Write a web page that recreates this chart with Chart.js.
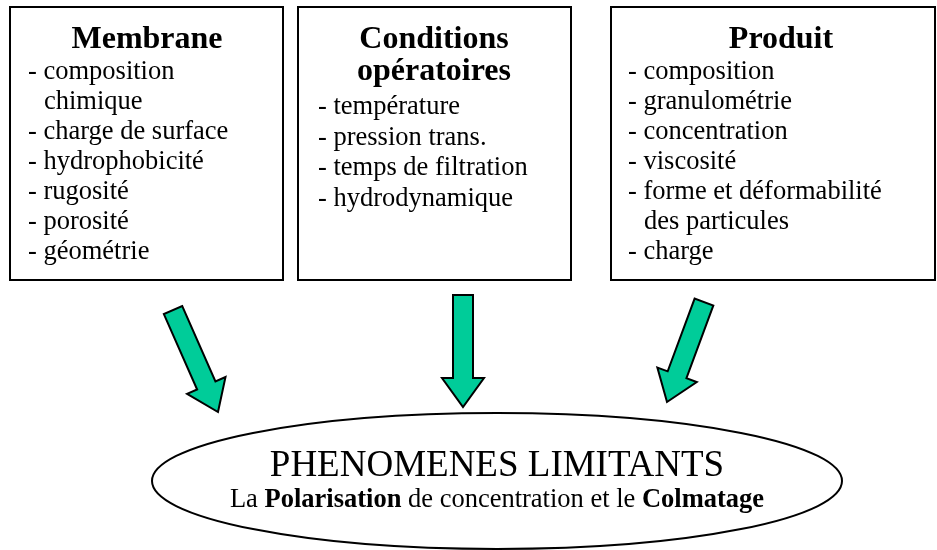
<!DOCTYPE html>
<html lang="fr">
<head>
    <meta charset="UTF-8" />
    <title>Phénomènes limitants</title>
    <script src="https://cdn.jsdelivr.net/npm/chart.js"></script>
    <style>
        html, body { margin: 0; padding: 0; background: #fff; }
        #wrap { width: 937px; height: 550px; }
    </style>
</head>
<body>
    <div id="wrap"><canvas id="schema"></canvas></div>

    <script>
        // Contenu du schéma
        const boxTitles = [['Membrane'], ['Conditions', 'opératoires'], ['Produit']];
        const membraneItems = ['- composition', 'chimique', '- charge de surface', '- hydrophobicité', '- rugosité', '- porosité', '- géométrie'];
        const conditionsItems = ['- température', '- pression trans.', '- temps de filtration', '- hydrodynamique'];
        const produitItems = ['- composition', '- granulométrie', '- concentration', '- viscosité', '- forme et déformabilité', 'des particules', '- charge'];
        const resultTitle = 'PHENOMENES LIMITANTS';
        const resultLine = [['La ', false], ['Polarisation', true], [' de concentration et le ', false], ['Colmatage', true]];

        const boxItems = [membraneItems, conditionsItems, produitItems];

        // mise en page (unités du repère 937 x 550)
        const boxes = [
            { x0: 10, x1: 283, titleX: 147, titleY: [48], itemX: 28, itemY: 79, step: 30 },
            { x0: 298, x1: 571, titleX: 434, titleY: [48, 80], itemX: 318, itemY: 114, step: 30.5 },
            { x0: 611, x1: 935, titleX: 781, titleY: [48], itemX: 628, itemY: 79, step: 30 }
        ];
        const boxTop = 7, boxBottom = 280;
        const arrows = [
            { from: [173, 310], to: [218, 412] },
            { from: [463, 295], to: [463, 407] },
            { from: [704, 302], to: [667, 402] }
        ];
        const ellipse = { cx: 497, cy: 481, rx: 345, ry: 68 };

        const serif = '"Liberation Serif", "Times New Roman", serif';

        const schemaPlugin = {
            id: 'schema',
            afterDraw(chart) {
                const ctx = chart.ctx;
                const sx = chart.scales.x, sy = chart.scales.y;
                const X = v => sx.getPixelForValue(v);
                const Y = v => sy.getPixelForValue(v);
                ctx.save();
                ctx.fillStyle = '#000';
                ctx.strokeStyle = '#000';

                // les trois cadres
                boxes.forEach((b, i) => {
                    ctx.lineWidth = 2;
                    ctx.strokeRect(X(b.x0), Y(boxTop), X(b.x1) - X(b.x0), Y(boxBottom) - Y(boxTop));
                    ctx.font = 'bold 32px ' + serif;
                    ctx.textAlign = 'center';
                    ctx.textBaseline = 'alphabetic';
                    boxTitles[i].forEach((t, j) => ctx.fillText(t, X(b.titleX), Y(b.titleY[j])));
                    ctx.font = '26.5px ' + serif;
                    ctx.textAlign = 'left';
                    boxItems[i].forEach((t, j) => {
                        const indent = t.startsWith('-') ? 0 : 16;
                        ctx.fillText(t, X(b.itemX + indent), Y(b.itemY + j * b.step));
                    });
                });

                // flèches
                arrows.forEach(a => {
                    const x0 = X(a.from[0]), y0 = Y(a.from[1]);
                    const x1 = X(a.to[0]), y1 = Y(a.to[1]);
                    const len = Math.hypot(x1 - x0, y1 - y0);
                    const ang = Math.atan2(y1 - y0, x1 - x0);
                    const sw = 10, hw = 21, hl = 29;
                    ctx.save();
                    ctx.translate(x0, y0);
                    ctx.rotate(ang);
                    ctx.beginPath();
                    ctx.moveTo(0, -sw);
                    ctx.lineTo(len - hl, -sw);
                    ctx.lineTo(len - hl, -hw);
                    ctx.lineTo(len, 0);
                    ctx.lineTo(len - hl, hw);
                    ctx.lineTo(len - hl, sw);
                    ctx.lineTo(0, sw);
                    ctx.closePath();
                    ctx.fillStyle = '#00cc99';
                    ctx.fill();
                    ctx.lineWidth = 2;
                    ctx.lineJoin = 'miter';
                    ctx.stroke();
                    ctx.restore();
                });

                // ellipse
                ctx.beginPath();
                ctx.ellipse(X(ellipse.cx), Y(ellipse.cy), X(ellipse.rx) - X(0), Y(ellipse.ry) - Y(0), 0, 0, Math.PI * 2);
                ctx.lineWidth = 2;
                ctx.stroke();

                ctx.fillStyle = '#000';
                ctx.font = '37px ' + serif;
                ctx.textAlign = 'center';
                ctx.fillText(resultTitle, X(ellipse.cx), Y(476));

                // ligne mixte gras / normal
                const fonts = ['26.5px ' + serif, 'bold 26.5px ' + serif];
                let total = 0;
                resultLine.forEach(s => { ctx.font = fonts[s[1] ? 1 : 0]; total += ctx.measureText(s[0]).width; });
                let x = X(ellipse.cx) - total / 2;
                ctx.textAlign = 'left';
                resultLine.forEach(s => {
                    ctx.font = fonts[s[1] ? 1 : 0];
                    ctx.fillText(s[0], x, Y(507));
                    x += ctx.measureText(s[0]).width;
                });
                ctx.restore();
            }
        };

        new Chart(document.getElementById('schema'), {
            type: 'scatter',
            data: { datasets: [{ data: [] }] },
            options: {
                responsive: true,
                maintainAspectRatio: false,
                animation: false,
                layout: { padding: 0 },
                plugins: { legend: { display: false }, tooltip: { enabled: false } },
                scales: {
                    x: { type: 'linear', min: 0, max: 937, display: false },
                    y: { type: 'linear', min: 0, max: 550, reverse: true, display: false }
                }
            },
            plugins: [schemaPlugin]
        });
    </script>
</body>
</html>
